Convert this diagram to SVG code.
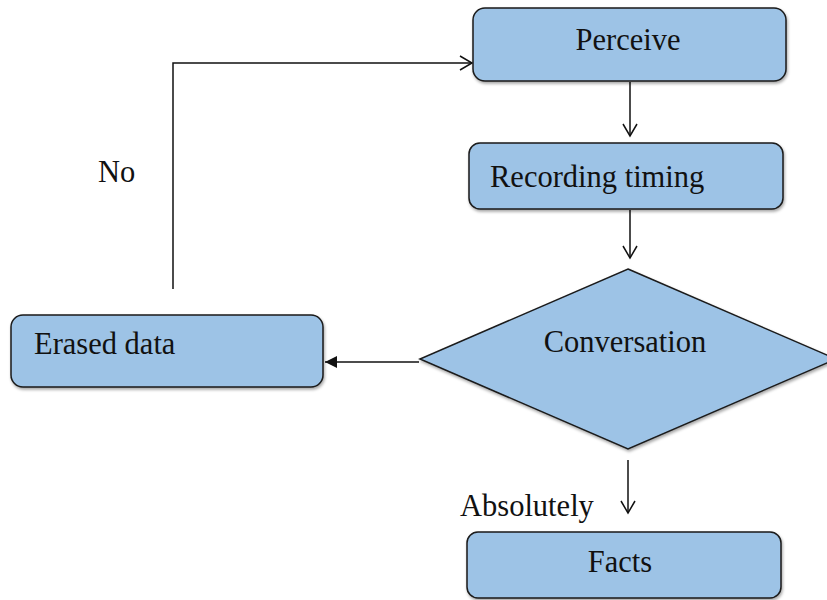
<svg xmlns="http://www.w3.org/2000/svg" width="827" height="600" viewBox="0 0 827 600">
<style>
.box{fill:#9dc3e6;stroke:#1a1a1a;stroke-width:1.5}
.t{font-family:"Liberation Serif","Times New Roman",serif;font-size:30.5px;fill:#111}
.c{stroke:#111;stroke-width:1.5;fill:none}
</style>
<defs>
<filter id="sh" x="-10%" y="-10%" width="120%" height="130%">
<feDropShadow dx="1" dy="2" stdDeviation="1.5" flood-color="#000" flood-opacity="0.35"/>
</filter>
<marker id="open" markerWidth="16" markerHeight="16" refX="14" refY="8" orient="auto" markerUnits="userSpaceOnUse">
<path d="M2,1 L14,8 L2,15" fill="none" stroke="#111" stroke-width="1.5"/>
</marker>
<marker id="fill" markerWidth="14" markerHeight="14" refX="12" refY="7" orient="auto" markerUnits="userSpaceOnUse">
<path d="M0,1 L12,7 L0,13 Z" fill="#111"/>
</marker>
</defs>
<g id="connectors">
<line class="c" x1="630" y1="82" x2="630" y2="136" marker-end="url(#open)"/>
<line class="c" x1="630" y1="210" x2="630" y2="258" marker-end="url(#open)"/>
<line class="c" x1="419" y1="362" x2="325" y2="362" marker-end="url(#fill)"/>
<polyline class="c" points="173,289 173,63 472,63" marker-end="url(#open)"/>
<line class="c" x1="628" y1="460" x2="628" y2="513" marker-end="url(#open)"/>
</g>
<g id="perceive">
<rect class="box" filter="url(#sh)" x="473" y="8" width="313" height="73" rx="12"/>
<text class="t" x="628" y="50" text-anchor="middle">Perceive</text>
</g>
<g id="recording">
<rect class="box" filter="url(#sh)" x="469" y="143" width="314" height="66" rx="11"/>
<text class="t" x="490" y="187">Recording timing</text>
</g>
<g id="conversation">
<polygon class="box" filter="url(#sh)" points="628,269 836,359 628,449 420,359"/>
<text class="t" x="625" y="352" text-anchor="middle">Conversation</text>
</g>
<g id="erased">
<rect class="box" filter="url(#sh)" x="11" y="315" width="312" height="72" rx="12"/>
<text class="t" x="34" y="354">Erased data</text>
</g>
<g id="facts">
<rect class="box" filter="url(#sh)" x="467" y="532" width="314" height="66" rx="11"/>
<text class="t" x="620" y="572" text-anchor="middle">Facts</text>
</g>
<g id="labels">
<text class="t" x="98" y="182">No</text>
<text class="t" x="460" y="516">Absolutely</text>
</g>
</svg>
